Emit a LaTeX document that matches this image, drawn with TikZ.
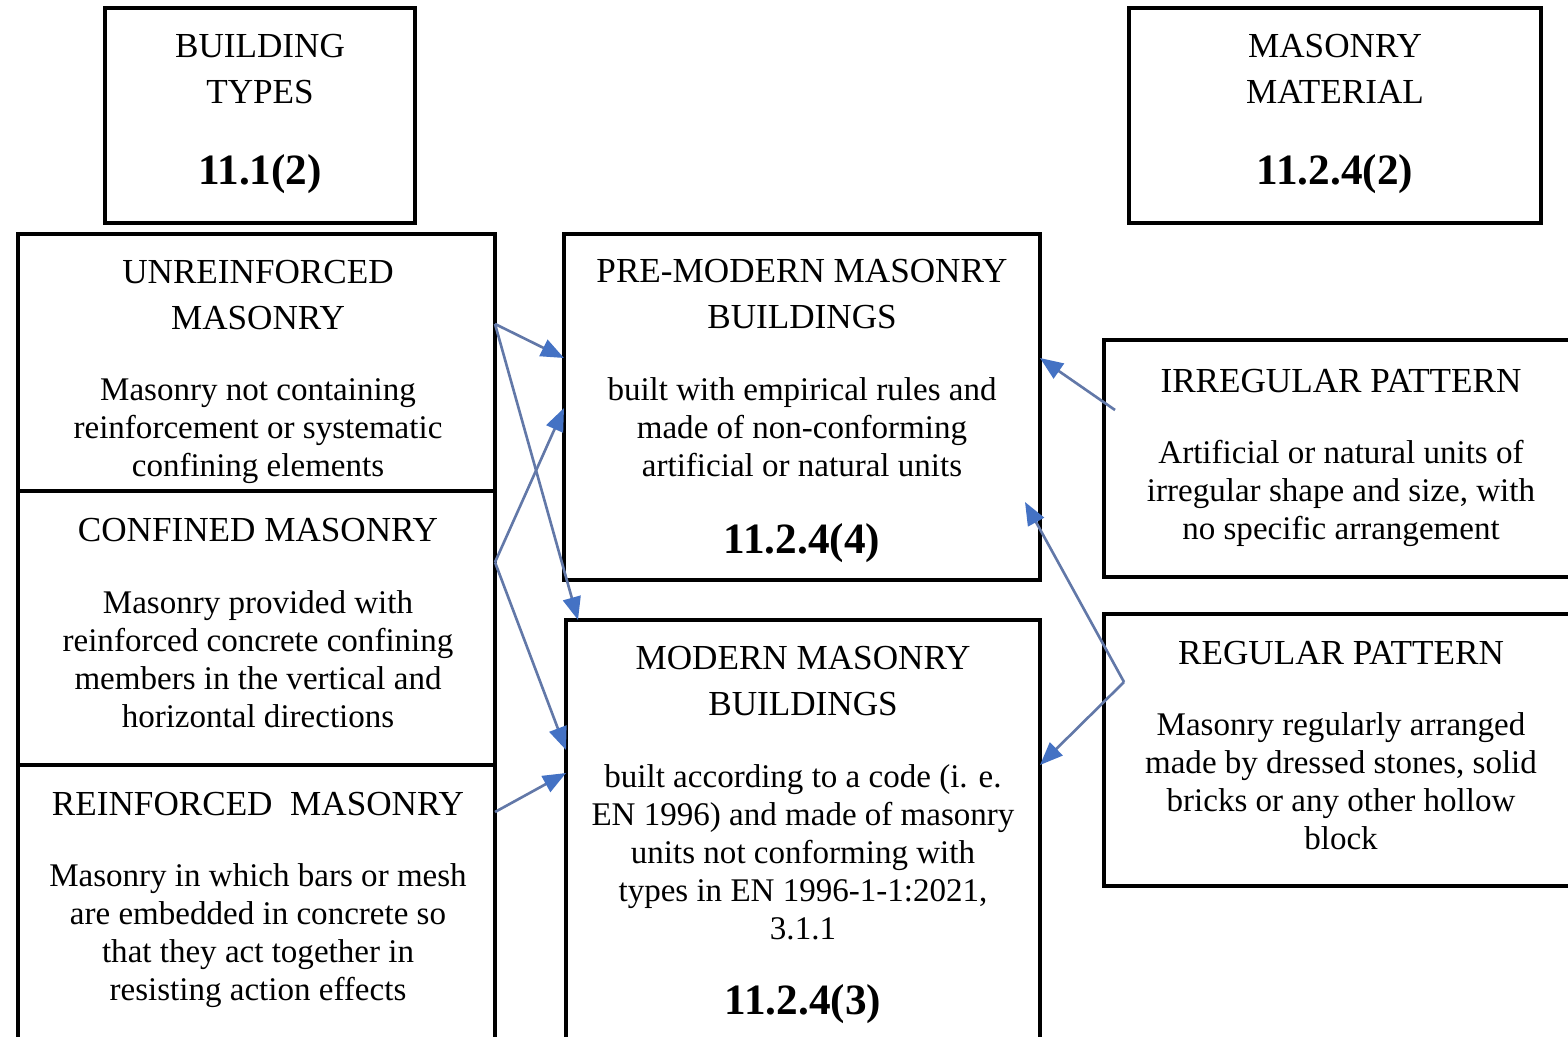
\documentclass[tikz,border=0pt]{standalone}
\usepackage{fontspec}
\setmainfont{Liberation Serif}
\usetikzlibrary{arrows.meta, calc, positioning}
\definecolor{linkline}{RGB}{98,120,168}
\definecolor{linkhead}{RGB}{68,114,196}
\tikzstyle{mybox}=[draw, line width=1.1pt, inner sep=0pt, outer sep=0pt]
\tikzstyle{mytitle}=[anchor=north, align=center, inner sep=0pt, font=\fontsize{10}{13}\selectfont]
\tikzstyle{mytext}=[anchor=north, align=center, inner sep=0pt, font=\fontsize{9.4}{10.8}\selectfont]
\tikzstyle{mycode}=[inner sep=0pt, font=\bfseries\fontsize{12.3}{14}\selectfont]
\tikzstyle{myarrow}=[-{Triangle[length=2.3mm, width=1.8mm, color=linkhead]}, draw=linkline, line width=0.75pt]

\begin{document}
\begin{tikzpicture}
    \useasboundingbox (0,0) rectangle (15.68,-10.36) ;
    %\draw[help lines] (0,-11) grid (16,0) ;
    % headers
    \node[mybox, minimum width=3.10cm, minimum height=2.15cm] (bt) at (2.60,-1.155) {} ;
    \node[mytitle] (btT) at (2.60,-0.334) {BUILDING\\TYPES} ;
    \node[mycode] (btC) at (2.60,-1.74) {11.1(2)} ;
    \node[mybox, minimum width=4.12cm, minimum height=2.15cm] (mm) at (13.35,-1.155) {} ;
    \node[mytitle] (mmT) at (13.35,-0.334) {MASONRY\\MATERIAL} ;
    \node[mycode] (mmC) at (13.35,-1.74) {11.2.4(2)} ;
    % left column
    \node[mybox, minimum width=4.77cm, minimum height=2.57cm] (unr) at (2.565,-3.625) {} ;
    \node[mytitle] (unrT) at (2.58,-2.60) {UNREINFORCED\\MASONRY} ;
    \node[mytext] (unrB) at (2.58,-3.78) {Masonry not containing\\reinforcement or systematic\\confining elements} ;
    \node[mybox, minimum width=4.77cm, minimum height=2.74cm] (con) at (2.565,-6.28) {} ;
    \node[mytitle] (conT) at (2.58,-5.175) {CONFINED MASONRY} ;
    \node[mytext] (conB) at (2.58,-5.90) {Masonry provided with\\reinforced concrete confining\\members in the vertical and\\horizontal directions} ;
    \node[mybox, minimum width=4.77cm, minimum height=2.80cm] (rei) at (2.565,-9.05) {} ;
    \node[mytitle] (reiT) at (2.58,-7.915) {REINFORCED\ \ MASONRY} ;
    \node[mytext] (reiB) at (2.58,-8.63) {Masonry in which bars or mesh\\are embedded in concrete so\\that they act together in\\resisting action effects} ;
    % middle column
    \node[mybox, minimum width=4.76cm, minimum height=3.46cm] (pm) at (8.02,-4.07) {} ;
    \node[mytitle] (pmT) at (8.02,-2.585) {PRE-MODERN MASONRY\\BUILDINGS} ;
    \node[mytext] (pmB) at (8.02,-3.77) {built with empirical rules and\\made of non-conforming\\artificial or natural units} ;
    \node[mycode] (pmC) at (8.02,-5.43) {11.2.4(4)} ;
    \node[mybox, minimum width=4.74cm, minimum height=4.25cm] (mod) at (8.03,-8.325) {} ;
    \node[mytitle] (modT) at (8.03,-6.455) {MODERN MASONRY\\BUILDINGS} ;
    \node[mytext] (modB) at (8.03,-7.64) {built according to a code (i. e.\\EN 1996) and made of masonry\\units not conforming with\\types in EN 1996-1-1:2021,\\3.1.1} ;
    \node[mycode] (modC) at (8.03,-10.04) {11.2.4(3)} ;
    % right column
    \node[mybox, minimum width=4.96cm, minimum height=2.37cm] (irr) at (13.52,-4.585) {} ;
    \node[mytitle] (irrT) at (13.41,-3.685) {IRREGULAR PATTERN} ;
    \node[mytext] (irrB) at (13.41,-4.40) {Artificial or natural units of\\irregular shape and size, with\\no specific arrangement} ;
    \node[mybox, minimum width=4.96cm, minimum height=2.72cm] (reg) at (13.52,-7.50) {} ;
    \node[mytitle] (regT) at (13.41,-6.405) {REGULAR PATTERN} ;
    \node[mytext] (regB) at (13.41,-7.12) {Masonry regularly arranged\\made by dressed stones, solid\\bricks or any other hollow\\block} ;
    % links
    \coordinate (unrOut) at ($(unr.north east)!0.35!(unr.south east)$) ;
    \coordinate (conOut) at ($(con.north east)!0.26!(con.south east)$) ;
    \coordinate (reiOut) at ($(rei.north east)+(0,-0.47)$) ;
    \coordinate (irrOut) at ($(irr.north west)+(0.11,-0.70)$) ;
    \coordinate (regOut) at ($(reg.north west)+(0.20,-0.68)$) ;
    \draw[myarrow] (unrOut) -- ($(pm.north west)+(0,-1.24)$) ;
    \draw[myarrow] (unrOut) -- ($(mod.north west)+(0.12,0)$) ;
    \draw[myarrow] (conOut) -- ($(pm.north west)+(0,-1.74)$) ;
    \draw[myarrow] (conOut) -- ($(mod.north west)+(0,-1.30)$) ;
    \draw[myarrow] (reiOut) -- ($(mod.north west)+(0,-1.53)$) ;
    \draw[myarrow] (irrOut) -- ($(pm.north east)+(0,-1.24)$) ;
    \draw[myarrow] (regOut) -- ($(pm.north east)+(-0.15,-2.68)$) ;
    \draw[myarrow] (regOut) -- ($(mod.north east)+(0,-1.45)$) ;
\end{tikzpicture}
\end{document}
